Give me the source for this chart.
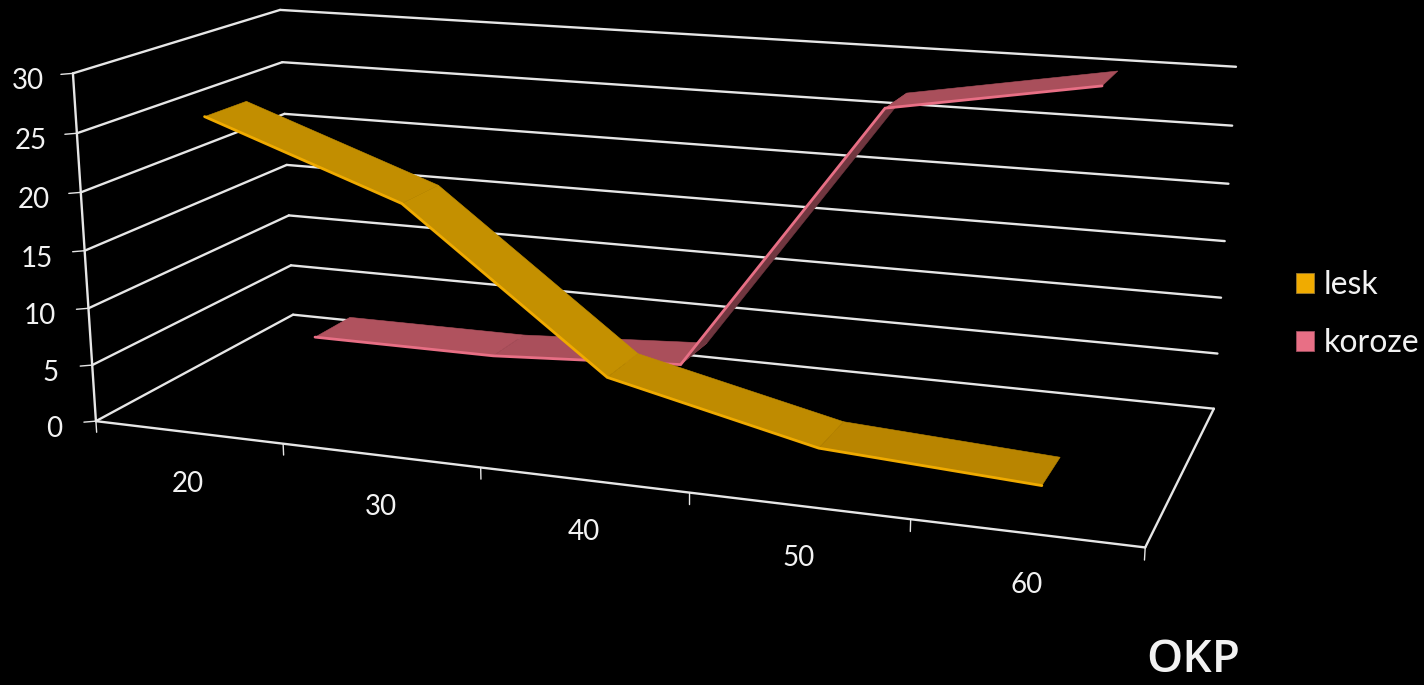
import numpy as np, pandas as pd, matplotlib
matplotlib.use('Agg')
import matplotlib.pyplot as plt, seaborn as sns
from matplotlib.transforms import Transform
from matplotlib.patches import Patch

# ---- data
okp = [20, 30, 40, 50, 60]
lesk = [26, 20, 7, 3, 2]
koroze = [2, 2, 3, 27, 30]
value_ticks = [0, 5, 10, 15, 20, 25, 30]
series_names = ['lesk', 'koroze']
axis_title = 'OKP'

# ---- styles
sns.set_theme(style='dark', rc={'figure.facecolor': 'black', 'axes.facecolor': 'black',
                                'text.color': '#f2f2f2'})
plt.rcParams['font.family'] = ['Lato', 'DejaVu Sans']
palette = sns.color_palette(['#F0AB00', '#E86F85'])
tone_lesk = ['#C28E00', '#C49000', '#BF8B00', '#B98500']
tone_koroze = ['#B0525E', '#AA4F5B', '#70363F', '#A94F5B']
GRID = '#E6E6E6'

# ---- perspective of the chart box: (slot along OKP, depth, value) -> picture pixel
box_world = np.array([(0,0,0),(5,0,0),(5,1,0),(0,1,0),(0,0,30),(0,1,30),(5,1,30)], float)
box_pixel = np.array([(96,421),(1145,548),(1214,408),(293,315),(73,73),(280,10),(1236,67)], float)
rows = []
for (a, d, z), (u, v) in zip(box_world, box_pixel):
    rows.append([a,d,z,1,0,0,0,0,-u*a,-u*d,-u*z,-u])
    rows.append([0,0,0,0,a,d,z,1,-v*a,-v*d,-v*z,-v])
P = np.linalg.svd(np.array(rows))[2][-1].reshape(3, 4)

class Plane(Transform):
    """2D data -> pixel on a plane of the box. okp fixed => (depth, value); depth fixed => (OKP, value)."""
    input_dims = output_dims = 2
    def __init__(self, at_depth=None, at_okp=None):
        super().__init__()
        self.at_depth, self.at_okp = at_depth, at_okp
    def transform_non_affine(self, xy):
        xy = np.asarray(xy, float)
        if self.at_depth is not None:
            s, d = (xy[:, 0] - 15) / 10, np.full(len(xy), self.at_depth)
        else:
            s, d = np.full(len(xy), (self.at_okp - 15) / 10), xy[:, 0]
        h = P @ np.c_[s, d, xy[:, 1], np.ones(len(xy))].T
        return (h[:2] / h[2]).T

fig = plt.figure(figsize=(14.24, 6.85), dpi=100, facecolor='black')
ax = fig.add_axes([0, 0, 1, 1])
to_px = ax.transData
xl = 15; xr = 65
LW = 1.7

# walls and floor
for v in value_ticks:
    ax.plot([0, 1], [v, v], color=GRID, lw=LW, transform=Plane(at_okp=xl) + to_px)
    ax.plot([xl, xr], [v, v], color=GRID, lw=LW, transform=Plane(at_depth=1) + to_px)
    px, py = Plane(at_depth=0).transform([[xl, v]])[0]
    ax.plot([px - 12, px], [py + 1, py], color=GRID, lw=1.0)
    ax.text(px - 34 + v / 6, py + 8, str(v), ha='right', va='center', fontsize=20)
ax.plot([xl, xl], [0, 30], color=GRID, lw=LW, transform=Plane(at_depth=0) + to_px)
ax.plot([xl, xr], [0, 0], color=GRID, lw=LW, transform=Plane(at_depth=0) + to_px)
ax.plot([0, 1], [0, 0], color=GRID, lw=LW, transform=Plane(at_okp=xr) + to_px)
for edge in range(xl, xr + 1, 10):
    ax.plot([edge, edge], [0, -1.0], color=GRID, lw=1.0, transform=Plane(at_depth=0) + to_px)
for c in okp:
    px, py = Plane(at_depth=0).transform([[c, 0]])[0]
    ax.text(px, py + 52, str(c), ha='center', va='center', fontsize=20)

# ribbons, back series first
for vals, tones, col, (d0, d1), zo in [(koroze, tone_koroze, palette[1], (0.65, 0.85), 3),
                                       (lesk, tone_lesk, palette[0], (0.15, 0.35), 5)]:
    for i in range(len(okp) - 1):
        a = Plane(at_depth=d0).transform([[okp[i], vals[i]], [okp[i + 1], vals[i + 1]]])
        b = Plane(at_depth=d1).transform([[okp[i + 1], vals[i + 1]], [okp[i], vals[i]]])
        q = np.vstack([a, b])
        ax.fill(q[:, 0], q[:, 1], color=tones[i], lw=0.4, zorder=zo)
    frame = pd.DataFrame({'OKP': okp, 'value': vals})
    sns.lineplot(data=frame, x='OKP', y='value', color=col, lw=2.0, ax=ax, errorbar=None,
                 solid_joinstyle='miter', zorder=zo + 1, transform=Plane(at_depth=d0) + to_px)

ax.set_xlim(0, 1424)
ax.set_ylim(685, 0)
ax.axis('off')

handles = [Patch(facecolor=palette[i], edgecolor='#9a7a30' if i == 0 else '#a05060', lw=0.6)
           for i in range(2)]
fig.legend(handles, series_names, loc='upper left', bbox_to_anchor=(1296 / 1424, 1 - 270.5 / 685),
           frameon=False, fontsize=23, handlelength=0.57, handleheight=0.57,
           labelspacing=0.875, handletextpad=0.31, borderpad=0, borderaxespad=0)
ax.text(1193, 672, axis_title, ha='center', va='baseline', fontsize=33, fontweight='semibold',
        family=['Open Sans', 'DejaVu Sans'])
fig.savefig('out.png', dpi=100, facecolor='black')
